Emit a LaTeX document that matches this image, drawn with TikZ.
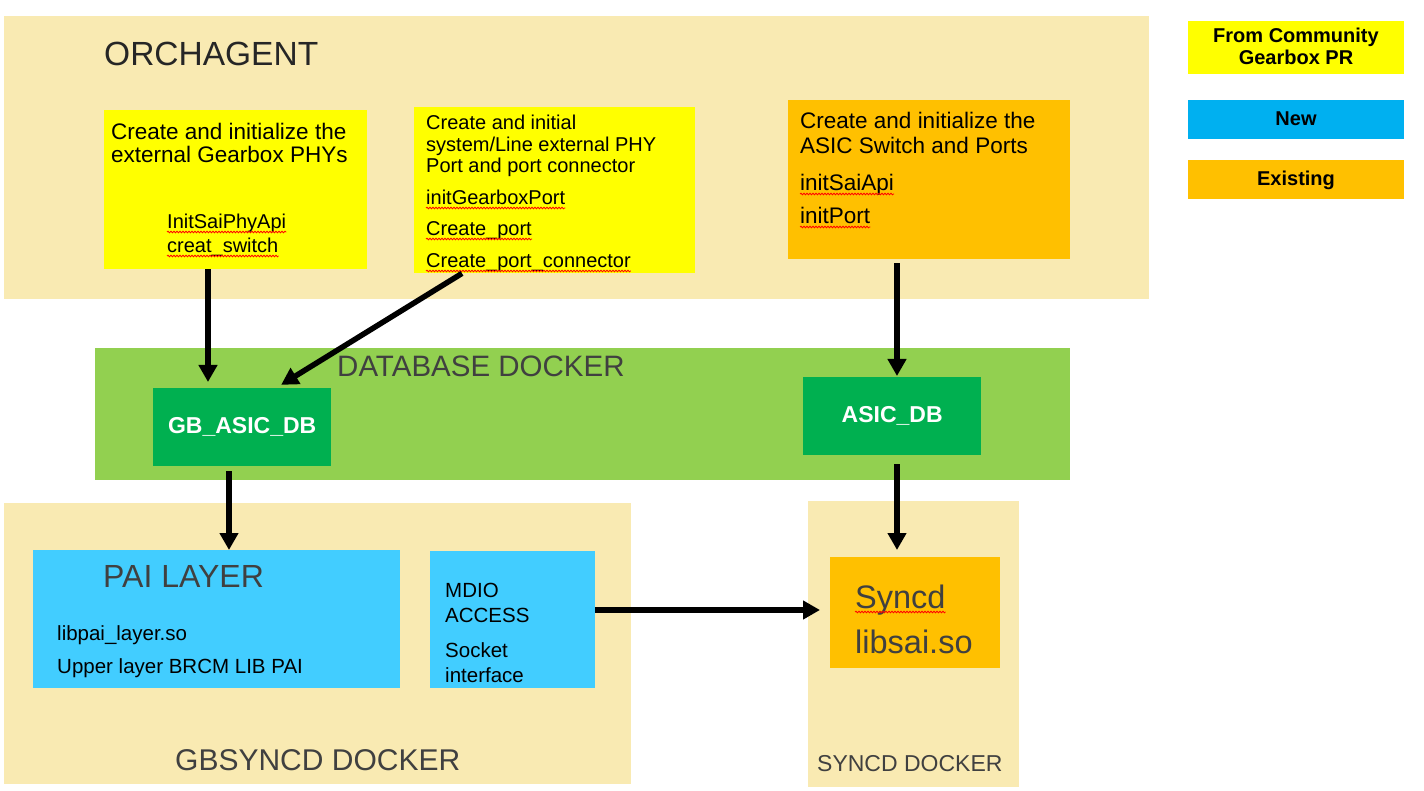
\documentclass[tikz,border=0pt]{standalone}
\usepackage{fontspec}
\setmainfont{Liberation Sans}
\usetikzlibrary{arrows.meta,decorations.pathmorphing}

\definecolor{beige}{HTML}{F9EAB2}
\definecolor{yel}{HTML}{FFFF00}
\definecolor{gold}{HTML}{FFC000}
\definecolor{dbgreen}{HTML}{92D050}
\definecolor{dkgreen}{HTML}{00B050}
\definecolor{paiblue}{HTML}{42CDFF}
\definecolor{newblue}{HTML}{00B0F0}
\definecolor{titlegray}{HTML}{404040}
\definecolor{darkgray}{HTML}{262626}

\newcommand\setfs[1]{\fontsize{#1}{#1}\selectfont}

\begin{document}
\begin{tikzpicture}[x=1pt,y=-1pt,
  area/.style={fill=#1, draw=none, inner sep=0, anchor=north west},
  lbl/.style={inner sep=0, anchor=base west, text=black},
  title/.style={inner sep=0, anchor=base west, text=titlegray},
  legend/.style={inner sep=0, anchor=base, text=black, font=\setfs{20}\bfseries},
  dbbox/.style={area=dkgreen, text=white, font=\setfs{23}\bfseries,
                minimum width=178, minimum height=78},
  arr/.style={line width=5.5pt, -{Triangle[width=18pt,length=17pt]}},
  squig/.style={draw=red, line width=0.8pt,
                decorate, decoration={snake, amplitude=0.8pt, segment length=3pt}}]

\useasboundingbox[fill=white] (0,0) rectangle (1424,791);

% docker areas
\node[area=beige, minimum width=1145, minimum height=283] (orch) at (4,16) {};
\node[area=beige, minimum width=627, minimum height=281] (gbs) at (4,503) {};
\node[area=beige, minimum width=211, minimum height=286] (sbg) at (808,501) {};
\node[area=dbgreen, minimum width=975, minimum height=132] (dbd) at (95,348) {};

% area titles
\node[inner sep=0, anchor=base west, text=darkgray, font=\setfs{33.5}] (torch) at (104,66) {ORCHAGENT};
\node[title, font=\setfs{29.5}] (tdb) at (337,377) {DATABASE DOCKER};
\node[title, font=\setfs{30}] (tgbs) at (175,770) {GBSYNCD DOCKER};
\node[title, font=\setfs{23}] (tsyn) at (817,771) {SYNCD DOCKER};

% orchagent boxes
\node[area=yel, minimum width=263, minimum height=159] (b1) at (104,110) {};
\node[area=yel, minimum width=281, minimum height=166] (b2) at (414,107) {};
\node[area=gold, minimum width=282, minimum height=159] (b3) at (788,100) {};

\node[lbl, font=\setfs{22.5}] (b1a) at (111,140) {Create and initialize the};
\node[lbl, font=\setfs{22.5}] (b1b) at (111,163) {external Gearbox PHYs};
\node[lbl, font=\setfs{20}] (b1c) at (167,229) {InitSaiPhyApi};
\node[lbl, font=\setfs{20}] (b1d) at (167,253) {creat\_switch};

\node[lbl, font=\setfs{20}] (b2a) at (426,130) {Create and initial};
\node[lbl, font=\setfs{20}] (b2b) at (426,152) {system/Line external PHY};
\node[lbl, font=\setfs{20}] (b2c) at (426,173) {Port and port connector};
\node[lbl, font=\setfs{20}] (b2d) at (426,205) {initGearboxPort};
\node[lbl, font=\setfs{20}] (b2e) at (426,236) {Create\_port};
\node[lbl, font=\setfs{20}] (b2f) at (426,268) {Create\_port\_connector};

\node[lbl, font=\setfs{22.5}] (b3a) at (800,129) {Create and initialize the};
\node[lbl, font=\setfs{22.5}] (b3b) at (800,154) {ASIC Switch and Ports};
\node[lbl, font=\setfs{22.5}] (b3c) at (800,191) {initSaiApi};
\node[lbl, font=\setfs{22.5}] (b3d) at (800,224) {initPort};

% database tables
\node[dbbox] (gb) at (153,388) {GB\_ASIC\_DB};
\node[dbbox] (adb) at (803,377) {ASIC\_DB};

% gbsyncd boxes
\node[area=paiblue, minimum width=367, minimum height=138] (pai) at (33,550) {};
\node[area=paiblue, minimum width=165, minimum height=137] (mdio) at (430,551) {};
\node[title, font=\setfs{32}] (paia) at (103,587) {PAI LAYER};
\node[lbl, font=\setfs{20.5}] (paib) at (57,640) {libpai\_layer.so};
\node[lbl, font=\setfs{20.5}] (paic) at (57,673) {Upper layer BRCM LIB PAI};
\node[lbl, font=\setfs{20.5}] (mda) at (445,597) {MDIO};
\node[lbl, font=\setfs{20.5}] (mdb) at (445,622) {ACCESS};
\node[lbl, font=\setfs{20.5}] (mdc) at (445,657) {Socket};
\node[lbl, font=\setfs{20.5}] (mdd) at (445,682) {interface};

% syncd box
\node[area=gold, minimum width=170, minimum height=111] (syn) at (830,557) {};
\node[title, font=\setfs{32.5}] (syna) at (855,608) {Syncd};
\node[title, font=\setfs{32.5}] (synb) at (855,653) {libsai.so};

% legend
\node[area=yel, minimum width=216, minimum height=53] (lg1) at (1188,21) {};
\node[legend] (lg1a) at (1296,43) {From Community};
\node[legend] (lg1b) at (1296,65) {Gearbox PR};
\node[area=newblue, minimum width=216, minimum height=39] (lg2) at (1188,100) {};
\node[legend] (lg2a) at (1296,126) {New};
\node[area=gold, minimum width=216, minimum height=39] (lg3) at (1188,160) {};
\node[legend] (lg3a) at (1296,186) {Existing};

% spell-check underlines
\foreach \w in {b1c,b1d,b2d,b2e,b2f,b3c,b3d}
  \draw[squig] ([yshift=-3pt]\w.base west) -- ([yshift=-3pt]\w.base east);
\draw[squig] ([yshift=-4pt]syna.base west) -- ([yshift=-4pt]syna.base east);

% connectors
\draw[arr, shorten >=6pt] (b1.south -| 208,0) -- (gb.north -| 208,0);
\draw[arr, shorten >=6pt] (b2.south -| 462,0) -- (gb.north -| 276,0);
\draw[arr, shorten <=4pt, shorten >=1pt] (b3.south -| 897,0) -- (adb.north -| 897,0);
\draw[arr, shorten <=5pt] (gb.south -| 229,0) -- (pai.north -| 229,0);
\draw[arr, shorten <=9pt, shorten >=7pt] (adb.south -| 897,0) -- (syn.north -| 897,0);
\draw[arr, shorten >=10pt] (mdio.east |- 0,610) -- (syn.west |- 0,610);

\end{tikzpicture}
\end{document}
